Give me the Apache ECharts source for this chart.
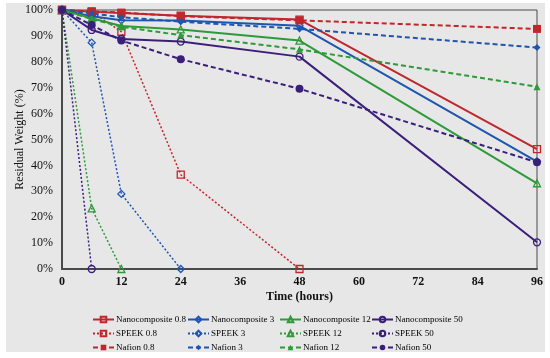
<!DOCTYPE html>
<html><head><meta charset="utf-8">
<script src="https://cdn.jsdelivr.net/npm/echarts@6/dist/echarts.min.js"></script>
<style>html,body{margin:0;padding:0;background:#fff}#c{width:550px;height:358px}</style>
</head><body><div id="c"></div>
<script>
const xTicks = [0, 12, 24, 36, 48, 60, 72, 84, 96];
const yTicks = [0, 10, 20, 30, 40, 50, 60, 70, 80, 90, 100];
const times = [0, 6, 12, 24, 48, 96];

const nano08 = [100, 99.3, 98.8, 97.8, 96.3, 46.3];
const nano3  = [100, 97.6, 96.0, 95.9, 93.9, 41.5];
const nano12 = [100, 96.8, 93.8, 92.5, 88.2, 33.1];
const nano50 = [100, 92.3, 88.8, 87.8, 82.0, 10.3];

const speekTimes08 = [0, 6, 12, 24, 48];
const speek08 = [100, 99.3, 91.6, 36.4, 0];
const speekTimes3 = [0, 6, 12, 24];
const speek3 = [100, 87.4, 29.0, 0];
const speekTimes12 = [0, 6, 12];
const speek12 = [100, 23.4, 0];
const speekTimes50 = [0, 6];
const speek50 = [100, 0];

const naf08 = [100, 99.5, 99.0, 97.6, 96.0, 92.7];
const naf3  = [100, 98.7, 97.2, 95.5, 92.7, 85.5];
const naf12 = [100, 96.5, 93.5, 90.3, 84.8, 70.4];
const naf50 = [100, 94.2, 88.2, 81.0, 69.6, 41.2];

const names = ['Nanocomposite 0.8','Nanocomposite 3','Nanocomposite 12','Nanocomposite 50',
               'SPEEK 0.8','SPEEK 3','SPEEK 12','SPEEK 50',
               'Nafion 0.8','Nafion 3','Nafion 12','Nafion 50'];

const RED = '#c0272d', BLUE = '#1f55b0', GREEN = '#2e9a3a', PURPLE = '#3a1f7a';
const FONT = '"Liberation Serif", "DejaVu Serif", serif';

function pair(xs, ys){ return xs.map((x,i)=>[x, ys[i]]); }

function mk(name, xs, ys, color, kind, symbol, size){
  const open = kind !== 'nafion';
  return {
    name, type:'line', data: pair(xs, ys),
    symbol, symbolSize: size, showSymbol: true,
    lineStyle: { color, width: kind==='speek'?1.5:2, type: kind==='nano'?'solid':(kind==='speek'?[2,2]:[5,3]) },
    itemStyle: open ? { color:'rgba(0,0,0,0)', borderColor: color, borderWidth: 1.3 } : { color, borderColor: color, borderWidth: 0 },
    emphasis: { disabled: true },
    z: kind==='nano'?3:(kind==='nafion'?4:2)
  };
}

const series = [
  mk(names[0], times, nano08, RED, 'nano', 'rect', 7),
  mk(names[1], times, nano3, BLUE, 'nano', 'diamond', 7),
  mk(names[2], times, nano12, GREEN, 'nano', 'triangle', 7),
  mk(names[3], times, nano50, PURPLE, 'nano', 'circle', 7),
  mk(names[4], speekTimes08, speek08, RED, 'speek', 'rect', 7),
  mk(names[5], speekTimes3, speek3, BLUE, 'speek', 'diamond', 7),
  mk(names[6], speekTimes12, speek12, GREEN, 'speek', 'triangle', 7),
  mk(names[7], speekTimes50, speek50, PURPLE, 'speek', 'circle', 7),
  mk(names[8], times, naf08, RED, 'nafion', 'rect', 8),
  mk(names[9], times, naf3, BLUE, 'nafion', 'diamond', 7),
  mk(names[10], times, naf12, GREEN, 'nafion', 'triangle', 7),
  mk(names[11], times, naf50, PURPLE, 'nafion', 'circle', 8)
];

const colX = [92, 187, 279, 371];
const rowY = [315, 329, 343];
const legends = names.map((n, i) => ({
  data: [n], left: colX[i % 4], top: rowY[Math.floor(i / 4)], padding: 0,
  itemWidth: 21, itemHeight: 7, itemGap: 0, selectedMode: false,
  textStyle: { fontFamily: FONT, fontSize: 9, color: '#000', padding: [0,0,0,-3] }
}));

const chart = echarts.init(document.getElementById('c'), null, {renderer:'canvas'});
chart.setOption({
  animation: false,
  backgroundColor: '#fff',
  graphic: [{ type:'rect', shape:{x:6, y:3, width:539, height:349}, style:{fill:'#e7e7e7'}, z:-10, silent:true }],
  grid: { left: 62, right: 13, top: 10, bottom: 89, show: true, borderColor: '#4a4a4a', borderWidth: 1, backgroundColor: 'transparent' },
  legend: legends,
  xAxis: {
    type: 'value', min: xTicks[0], max: xTicks[xTicks.length-1], interval: 12,
    name: 'Time (hours)', nameLocation: 'middle', nameGap: 22, nameMoveOverlap: false,
    nameTextStyle: { fontFamily: FONT, fontSize: 12, color: '#111', fontWeight: 'bold' },
    axisLine: { lineStyle: { color: '#4a4a4a', width: 2 } },
    axisTick: { show: false }, splitLine: { show: false },
    axisLabel: { fontFamily: FONT, fontSize: 12, color: '#111', margin: 7, fontWeight: 'bold',
      formatter: v => xTicks.includes(v) ? String(v) : '' }
  },
  yAxis: {
    type: 'value', min: yTicks[0], max: yTicks[yTicks.length-1], interval: 10,
    name: 'Residual Weight (%)', nameLocation: 'middle', nameGap: 36, nameRotate: 90, nameMoveOverlap: false,
    nameTextStyle: { fontFamily: FONT, fontSize: 12, color: '#111' },
    axisLine: { show: true, lineStyle: { color: '#4a4a4a', width: 2 } },
    axisTick: { show: false }, splitLine: { show: false },
    axisLabel: { fontFamily: FONT, fontSize: 12, color: '#111', margin: 9,
      formatter: v => v + '%' }
  },
  series
});
</script></body></html>
